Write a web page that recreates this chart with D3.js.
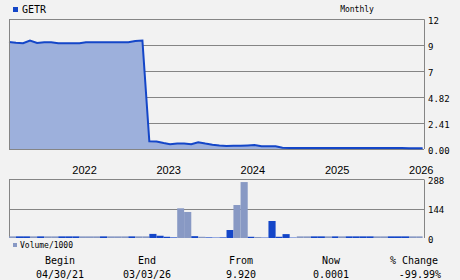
<!DOCTYPE html>
<html>
<head>
<meta charset="utf-8">
<script src="https://cdn.jsdelivr.net/npm/d3@7"></script>
<style>
  html, body { margin: 0; padding: 0; background: #f2f2f2; }
  svg { display: block; }
  .mono { font-family: 'DejaVu Sans Mono', monospace; fill: #000; }
  .sans { font-family: 'Liberation Sans', Arial, sans-serif; fill: #000; }
</style>
</head>
<body>
<svg id="chart" width="460" height="280"></svg>
<script>
const months = [
  '2021-04','2021-05','2021-06','2021-07','2021-08','2021-09','2021-10','2021-11','2021-12',
  '2022-01','2022-02','2022-03','2022-04','2022-05','2022-06','2022-07','2022-08','2022-09','2022-10','2022-11','2022-12',
  '2023-01','2023-02','2023-03','2023-04','2023-05','2023-06','2023-07','2023-08','2023-09','2023-10','2023-11','2023-12',
  '2024-01','2024-02','2024-03','2024-04','2024-05','2024-06','2024-07','2024-08','2024-09','2024-10','2024-11','2024-12',
  '2025-01','2025-02','2025-03','2025-04','2025-05','2025-06','2025-07','2025-08','2025-09','2025-10','2025-11','2025-12',
  '2026-01','2026-02','2026-03'
];
const prices = [
  9.92, 9.85, 9.80, 10.05, 9.82, 9.90, 9.90, 9.80, 9.80,
  9.80, 9.80, 9.90, 9.90, 9.90, 9.90, 9.90, 9.90, 9.90, 10.00, 10.06, 0.72,
  0.70, 0.55, 0.45, 0.50, 0.52, 0.45, 0.62, 0.50, 0.40, 0.33, 0.28, 0.30,
  0.30, 0.33, 0.37, 0.25, 0.25, 0.25, 0.12, 0.10, 0.10, 0.10, 0.10, 0.10,
  0.10, 0.10, 0.10, 0.10, 0.09, 0.09, 0.09, 0.09, 0.09, 0.09, 0.09, 0.09,
  0.08, 0.08, 0.08
];
const volumes = [
  8, 8, 8, 8, 8, 8, 8, 8, 8,
  8, 8, 8, 8, 8, 8, 8, 8, 8, 8, 8, 20,
  11, 6, 3, 145, 127, 9, 6, 3, 2, 3, 39, 161,
  273, 6, 5, 2, 83, 6, 19, 2, 8, 8, 8, 8,
  8, 8, 8, 8, 8, 8, 8, 8, 8, 8, 8, 8,
  8, 8
];
const volumeUp = [
  0, 1, 1, 0, 1, 0, 0, 1, 1,
  1, 0, 0, 0, 1, 0, 0, 0, 1, 0, 0, 1,
  1, 1, 1, 0, 0, 1, 0, 1, 1, 1, 1, 0,
  0, 1, 0, 1, 1, 1, 1, 1, 0, 0, 1, 1,
  0, 1, 0, 1, 1, 1, 1, 0, 0, 1, 1, 1,
  0, 0
];
const priceTicks = [0, 2.41, 4.82, 7.23, 9.64, 12.05];
const priceTickLabels = ['0.00', '2.41', '4.82', '7', '9', '12'];
const volumeTicks = [0, 144, 288];
const yearTicks = ['2022', '2023', '2024', '2025', '2026'];
const symbol = 'GETR';
const period = 'Monthly';
const summaryHeads = ['Begin', 'End', 'From', 'Now', '% Change'];
const summaryValues = ['04/30/21', '03/03/26', '9.920', '0.0001', '-99.99%'];

const left = 9, right = 424;
const lineColor = '#1446c8', areaColor = '#9db0dc', lightBar = '#8899c4', gridColor = '#858585';

const parse = d3.timeParse('%Y-%m');
const dates = months.map(parse);

const svg = d3.select('#chart');

const x = d3.scaleTime()
  .domain([new Date(2021, 3, 1), new Date(2026, 2, 7)])
  .range([left, right]);
const y = d3.scaleLinear().domain([0, 12.05]).range([149, 19]);
const yv = d3.scaleLinear().domain([0, 288]).range([238, 179]);

// price panel grid
svg.append('g').selectAll('line')
  .data(priceTicks)
  .join('line')
  .attr('x1', left).attr('x2', right)
  .attr('y1', d => Math.round(y(d)) + 0.5).attr('y2', d => Math.round(y(d)) + 0.5)
  .attr('stroke', gridColor);

const pts = dates.map((d, i) => [d, prices[i]]);

svg.append('path')
  .datum(pts)
  .attr('fill', areaColor)
  .attr('d', d3.area().x(d => x(d[0])).y0(y(0)).y1(d => y(d[1])));

svg.append('path')
  .datum(pts)
  .attr('fill', 'none')
  .attr('stroke', lineColor)
  .attr('stroke-width', 2)
  .attr('d', d3.line().x(d => x(d[0])).y(d => y(d[1])));

// price frame
svg.append('path')
  .attr('fill', 'none')
  .attr('stroke', gridColor)
  .attr('d', `M${left + 0.5},${y(0)}V${Math.round(y(12.05)) + 0.5}H${right + 0.5}V${y(0)}`);

svg.append('g')
  .selectAll('text')
  .data(priceTicks)
  .join('text')
  .attr('class', 'mono')
  .attr('font-size', 9)
  .attr('x', right + 4)
  .attr('y', d => y(d) + 4.5)
  .text((d, i) => priceTickLabels[i]);

// years
svg.append('g')
  .selectAll('text')
  .data(yearTicks)
  .join('text')
  .attr('class', 'sans')
  .attr('font-size', 11)
  .attr('x', d => x(new Date(+d, 0, 1)))
  .attr('y', 174)
  .text(d => d);

// volume panel
svg.append('g').selectAll('line')
  .data(volumeTicks.slice(1))
  .join('line')
  .attr('x1', left).attr('x2', right)
  .attr('y1', d => Math.round(yv(d)) + 0.5).attr('y2', d => Math.round(yv(d)) + 0.5)
  .attr('stroke', gridColor);

svg.append('path')
  .attr('fill', 'none')
  .attr('stroke', gridColor)
  .attr('d', `M${left + 0.5},${yv(0)}V${Math.round(yv(288)) + 0.5}M${right + 0.5},${Math.round(yv(288)) + 0.5}V${yv(0)}`);

svg.append('g')
  .selectAll('rect')
  .data(volumes)
  .join('rect')
  .attr('x', (d, i) => x(dates[i]))
  .attr('width', (d, i) => x(d3.timeMonth.offset(dates[i], 1)) - x(dates[i]))
  .attr('y', d => yv(d))
  .attr('height', d => yv(0) - yv(d))
  .attr('fill', (d, i) => volumeUp[i] ? lineColor : lightBar);

svg.append('g')
  .selectAll('text')
  .data(volumeTicks)
  .join('text')
  .attr('class', 'mono')
  .attr('font-size', 9)
  .attr('x', right + 4)
  .attr('y', d => yv(d) + 4.5)
  .text(d => d);

// title and legend
svg.append('rect').attr('x', 13).attr('y', 7).attr('width', 5).attr('height', 5).attr('fill', lineColor);
svg.append('text').attr('class', 'mono').attr('font-size', 10).attr('x', 22).attr('y', 13).text(symbol);
svg.append('text').attr('class', 'mono').attr('font-size', 8).attr('x', 357).attr('y', 12)
  .attr('text-anchor', 'middle').text(period);

svg.append('rect').attr('x', 13).attr('y', 243).attr('width', 4).attr('height', 4).attr('fill', lightBar);
svg.append('text').attr('class', 'mono').attr('font-size', 8).attr('x', 20).attr('y', 248).text('Volume/1000');

// summary
const cols = [60, 147, 241, 331, 414];
svg.append('g').selectAll('text')
  .data(summaryHeads)
  .join('text')
  .attr('class', 'mono')
  .attr('font-size', 10)
  .attr('text-anchor', 'middle')
  .attr('x', (d, i) => cols[i])
  .attr('y', 264)
  .text(d => d);

svg.append('g').selectAll('text')
  .data(summaryValues)
  .join('text')
  .attr('class', 'mono')
  .attr('font-size', 10)
  .attr('text-anchor', (d, i) => i === 4 ? 'end' : 'middle')
  .attr('x', (d, i) => i === 4 ? 441 : cols[i])
  .attr('y', 278)
  .text(d => d);
</script>
</body>
</html>
